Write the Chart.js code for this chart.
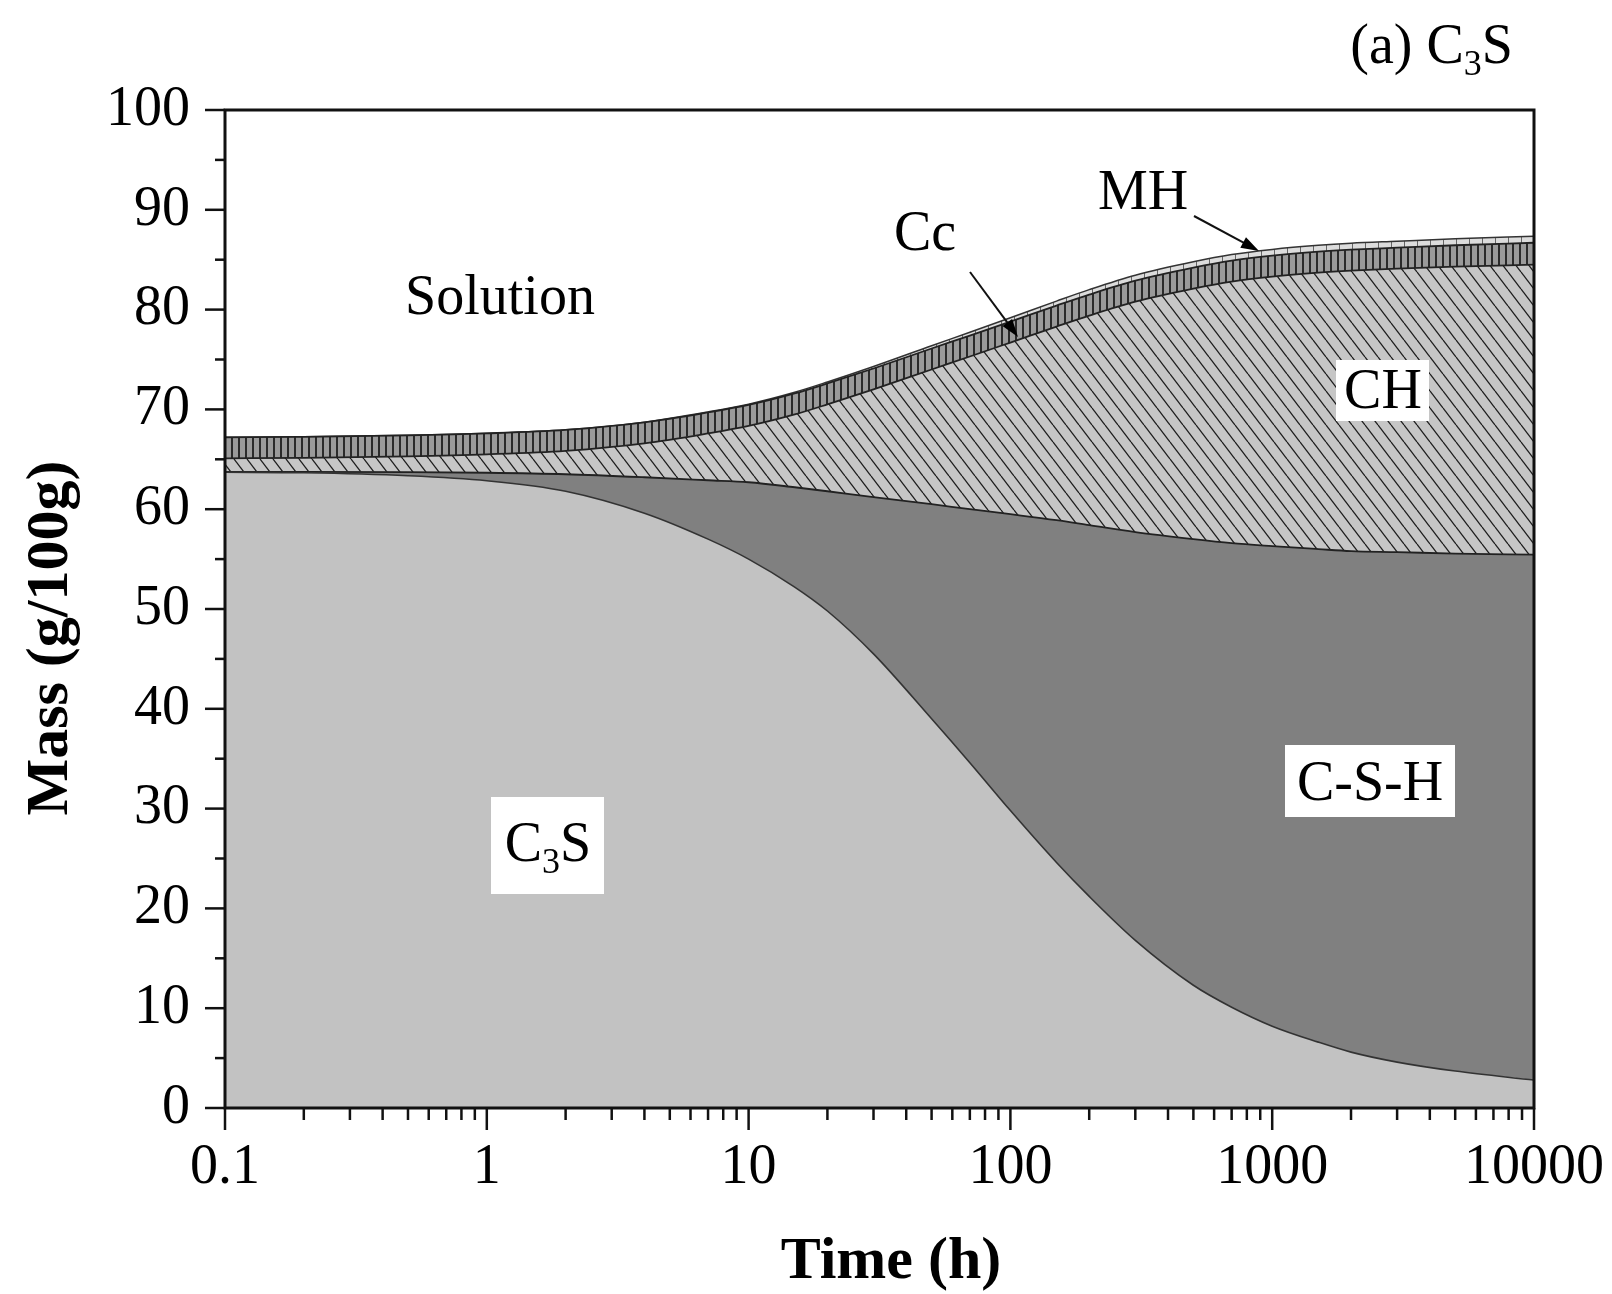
<!DOCTYPE html>
<html><head><meta charset="utf-8">
<script src="https://cdn.jsdelivr.net/npm/chart.js@4.4.0/dist/chart.umd.min.js"></script>
<style>html,body{margin:0;padding:0;background:#fff}canvas{display:block}</style>
</head><body>
<canvas id="c" width="1612" height="1294"></canvas>
<script>
// ---- data ----
const timeHours = [0.1, 0.2, 0.5, 1, 2, 4, 7, 10, 15, 20, 30, 50, 70, 100, 150, 200, 300, 500, 700, 1000, 1500, 2000, 3000, 5000, 10000];
const massC3S = [63.7, 63.65, 63.35, 62.85, 61.8, 59.6, 57.0, 55.0, 52.2, 49.8, 45.5, 39.0, 34.6, 29.8, 24.6, 21.2, 16.8, 12.3, 10.1, 8.2, 6.6, 5.6, 4.6, 3.7, 2.8];
const massCSH = [0.05, 0.1, 0.37, 0.8, 1.7, 3.6, 5.9, 7.7, 10.0, 12.0, 15.7, 21.5, 25.4, 29.7, 34.3, 37.2, 40.9, 44.7, 46.5, 48.1, 49.4, 50.2, 51.1, 51.85, 52.65];
const massCH  = [1.35, 1.4, 1.58, 1.85, 2.35, 3.4, 4.7, 5.65, 7.3, 8.7, 10.8, 13.5, 15.3, 17.2, 19.4, 21.0, 23.1, 25.1, 26.2, 27.0, 27.7, 28.1, 28.4, 28.75, 29.05];
const massCc  = [2.1, 2.1, 2.1, 2.1, 2.1, 2.1, 2.1, 2.1, 2.1, 2.1, 2.1, 2.1, 2.1, 2.1, 2.1, 2.1, 2.1, 2.1, 2.1, 2.1, 2.1, 2.1, 2.1, 2.15, 2.2];
const massMH  = [0, 0, 0, 0, 0, 0.02, 0.05, 0.08, 0.12, 0.15, 0.2, 0.28, 0.33, 0.38, 0.45, 0.5, 0.55, 0.6, 0.62, 0.63, 0.64, 0.65, 0.65, 0.65, 0.65];
const xTickValues = [0.1, 1, 10, 100, 1000, 10000];
const xTickLabels = ['0.1', '1', '10', '100', '1000', '10000'];
const yTickValues = [0, 10, 20, 30, 40, 50, 60, 70, 80, 90, 100];

const SERIF = "'Liberation Serif', 'Times New Roman', serif";
const canvas = document.getElementById('c');
const mainCtx = canvas.getContext('2d');

function pts(arr) { return timeHours.map((t, i) => ({ x: t, y: arr[i] })); }
function makePattern(w, h, draw) {
  const c = document.createElement('canvas'); c.width = w; c.height = h;
  const g = c.getContext('2d'); draw(g, w, h);
  return mainCtx.createPattern(c, 'repeat');
}
const patCH = makePattern(13, 17, (g, w, h) => {
  g.fillStyle = '#c6c6c6'; g.fillRect(0, 0, w, h);
  g.strokeStyle = '#1c1c1c'; g.lineWidth = 1.3;
  for (let i = -1; i <= 1; i++) { g.beginPath(); g.moveTo(i * w, 0); g.lineTo(i * w + w, h); g.stroke(); }
});
const patCc = makePattern(7, 4, (g, w, h) => {
  g.fillStyle = '#9a9a9a'; g.fillRect(0, 0, w, h);
  g.fillStyle = '#2a2a2a'; g.fillRect(0, 0, 2, h);
});
const patMH = makePattern(13, 4, (g, w, h) => {
  g.fillStyle = '#dcdcdc'; g.fillRect(0, 0, w, h);
  g.fillStyle = '#666'; g.fillRect(0, 0, 1, h);
});

function ds(label, arr, bg, fill, border, bw) {
  return { label, data: pts(arr), backgroundColor: bg, fill, borderColor: border, borderWidth: bw,
           pointRadius: 0, cubicInterpolationMode: 'monotone' };
}

function arrow(ctx, x1, y1, x2, y2) {
  const ang = Math.atan2(y2 - y1, x2 - x1), L = 18, W = 6;
  ctx.strokeStyle = '#111'; ctx.lineWidth = 2;
  ctx.beginPath(); ctx.moveTo(x1, y1); ctx.lineTo(x2 - Math.cos(ang) * L * 0.8, y2 - Math.sin(ang) * L * 0.8); ctx.stroke();
  ctx.fillStyle = '#000'; ctx.beginPath();
  ctx.moveTo(x2, y2);
  ctx.lineTo(x2 - Math.cos(ang) * L - Math.sin(ang) * W, y2 - Math.sin(ang) * L + Math.cos(ang) * W);
  ctx.lineTo(x2 - Math.cos(ang) * L + Math.sin(ang) * W, y2 - Math.sin(ang) * L - Math.cos(ang) * W);
  ctx.closePath(); ctx.fill();
}
// draws text made of [text, isSub] parts centred (or right-aligned) at x on a baseline
function subText(ctx, parts, x, y, size, align) {
  const subSize = Math.round(size * 0.65);
  let total = 0;
  parts.forEach(p => { ctx.font = (p[1] ? subSize : size) + 'px ' + SERIF; total += ctx.measureText(p[0]).width; });
  let cx = align === 'right' ? x - total : x - total / 2;
  ctx.textAlign = 'left'; ctx.textBaseline = 'alphabetic';
  parts.forEach(p => {
    ctx.font = (p[1] ? subSize : size) + 'px ' + SERIF;
    ctx.fillText(p[0], cx, p[1] ? y + size * 0.22 : y);
    cx += ctx.measureText(p[0]).width;
  });
}

const overlay = {
  id: 'overlay',
  afterDraw(chart) {
    const ctx = chart.ctx, xs = chart.scales.x, ys = chart.scales.y, a = chart.chartArea;
    ctx.save();
    // frame
    ctx.strokeStyle = '#111'; ctx.lineWidth = 3;
    ctx.strokeRect(a.left, a.top, a.right - a.left, a.bottom - a.top);
    // x ticks
    ctx.lineWidth = 2.5;
    for (let k = -1; k <= 4; k++) {
      for (let m = 1; m <= 9; m++) {
        const v = m * Math.pow(10, k);
        if (v > 10000 + 1e-9) break;
        const px = xs.getPixelForValue(v);
        ctx.beginPath(); ctx.moveTo(px, a.bottom); ctx.lineTo(px, a.bottom + (m === 1 ? 22 : 12)); ctx.stroke();
      }
    }
    // y ticks
    for (let v = 0; v <= 100; v += 5) {
      const py = ys.getPixelForValue(v);
      ctx.beginPath(); ctx.moveTo(a.left, py); ctx.lineTo(a.left - (v % 10 === 0 ? 20 : 10), py); ctx.stroke();
    }
    // label boxes
    ctx.fillStyle = '#fff';
    ctx.fillRect(1336, 360, 93, 61);
    ctx.fillRect(1285, 745, 170, 72);
    ctx.fillRect(491, 797, 113, 97);
    ctx.fillStyle = '#000'; ctx.textBaseline = 'alphabetic'; ctx.textAlign = 'center';
    ctx.font = '56px ' + SERIF;
    ctx.fillText('Solution', 500, 314);
    ctx.fillText('Cc', 925, 250);
    ctx.fillText('MH', 1143, 209);
    ctx.fillText('CH', 1383, 408);
    ctx.fillText('C-S-H', 1370, 800);
    subText(ctx, [['C', 0], ['3', 1], ['S', 0]], 548, 861, 56, 'center');
    subText(ctx, [['(a) C', 0], ['3', 1], ['S', 0]], 1513, 63, 56, 'right');
    arrow(ctx, 970, 272, 1018, 337);
    arrow(ctx, 1194, 216, 1259, 251);
    // axis titles
    ctx.fillStyle = '#000'; ctx.textAlign = 'center'; ctx.textBaseline = 'alphabetic';
    ctx.font = 'bold 60px ' + SERIF;
    ctx.fillText('Time (h)', 891, 1278);
    ctx.save(); ctx.translate(67, 638); ctx.rotate(-Math.PI / 2);
    ctx.fillText('Mass (g/100g)', 0, 0); ctx.restore();
    ctx.restore();
  }
};

new Chart(canvas, {
  type: 'line',
  data: {
    datasets: [
      ds('C3S', massC3S, '#c2c2c2', 'origin', '#333', 1.6),
      ds('C-S-H', massCSH, '#808080', '-1', '#222', 1.8),
      ds('CH', massCH, patCH, '-1', '#222', 1.8),
      ds('Cc', massCc, patCc, '-1', '#222', 1.8),
      ds('MH', massMH, patMH, '-1', '#333', 1.5)
    ]
  },
  options: {
    responsive: false, animation: false, devicePixelRatio: 1,
    layout: { padding: { top: 110, right: 78, left: 0, bottom: 0 } },
    plugins: { legend: { display: false }, tooltip: { enabled: false } },
    scales: {
      x: {
        type: 'logarithmic', min: 0.1, max: 10000, position: 'bottom',
        grid: { display: false, drawTicks: false }, border: { display: false },
        afterBuildTicks: s => { s.ticks = xTickValues.map(v => ({ value: v })); },
        afterFit: s => { s.height = 186; s.paddingLeft = 0; s.paddingRight = 0; },
        ticks: { autoSkip: false, maxRotation: 0, minRotation: 0, padding: 27, color: '#000',
                 font: { family: SERIF, size: 56 }, callback: (v, i) => xTickLabels[i] }
      },
      y: {
        type: 'linear', min: 0, max: 100, stacked: true, position: 'left',
        grid: { display: false, drawTicks: false }, border: { display: false },
        afterBuildTicks: s => { s.ticks = yTickValues.map(v => ({ value: v })); },
        afterFit: s => { s.width = 225; s.paddingTop = 0; s.paddingBottom = 0; },
        ticks: { padding: 35, color: '#000', font: { family: SERIF, size: 56 }, callback: v => String(v) }
      }
    }
  },
  plugins: [overlay]
});
</script>
</body></html>
